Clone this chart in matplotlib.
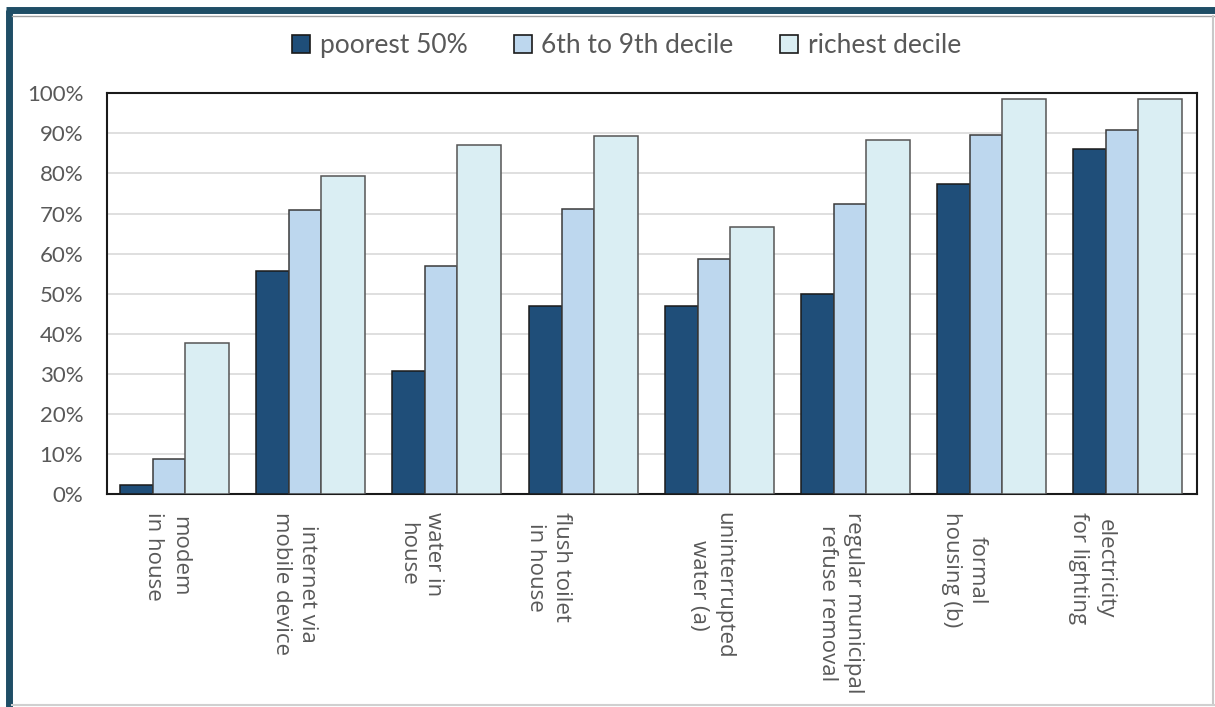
import numpy as np
import matplotlib
matplotlib.use("Agg")
import matplotlib.pyplot as plt
import matplotlib.transforms as mtransforms
from matplotlib.lines import Line2D
from matplotlib.ticker import PercentFormatter

# access to services by income group (share of households, %)
categories = ['modem\nin house', 'internet via\nmobile device', 'water in\nhouse',
              'flush toilet\nin house', 'uninterrupted\nwater (a)',
              'regular municipal\nrefuse removal', 'formal\nhousing (b)',
              'electricity\nfor lighting']
poorest_50 = [2.2, 55.7, 30.7, 46.9, 46.9, 49.9, 77.4, 86.1]
decile_6_9 = [8.7, 70.9, 56.9, 71.2, 58.7, 72.4, 89.6, 90.9]
richest_decile = [37.7, 79.4, 87.1, 89.4, 66.7, 88.4, 98.6, 98.6]
series_names = ['poorest 50%', '6th to 9th decile', 'richest decile']

colors = ['#1F4E79', '#BDD7EE', '#DAEEF3']
edges = ['#1a1a1a', '#3a3a3a', '#555555']
# left edge and width of each bar inside one category slot
bar_left = [0.095, 0.337, 0.572]
bar_width = [0.242, 0.235, 0.323]
# where each category label sits relative to the slot centre
label_shift = [-0.06, -0.125, -0.2, -0.257, -0.066, -0.117, -0.205, -0.27]

text_grey = '#595959'

fig = plt.figure(figsize=(12.15, 7.07), dpi=100)
ax = fig.add_axes([0.088, 0.301, 0.897, 0.567])

x = np.arange(len(categories))
for vals, left, w, c, ec in zip([poorest_50, decile_6_9, richest_decile],
                                bar_left, bar_width, colors, edges):
    ax.bar(x + left, vals, width=w, align='edge', color=c,
           edgecolor=ec, linewidth=1.1, zorder=3)

ax.set_xlim(0, len(categories))
ax.set_ylim(0, 100)
ax.set_yticks(np.arange(0, 101, 10))
ax.yaxis.set_major_formatter(PercentFormatter(decimals=0))
ax.grid(axis='y', color='#d9d9d9', linewidth=1.2, zorder=0)
ax.set_axisbelow(True)

# category names, read top to bottom under each group
ax.set_xticks([])
trans = mtransforms.blended_transform_factory(ax.transData, ax.transAxes)
for xi, name, sh in zip(x, categories, label_shift):
    ax.text(xi + 0.5 + sh, -0.045, name, transform=trans, rotation=270,
            ha='center', va='top', multialignment='center', linespacing=1.3,
            family=['Open Sans', 'DejaVu Sans'], fontsize=16, color=text_grey)

ax.tick_params(axis='y', length=0, pad=17, labelsize=16, labelcolor=text_grey)
for lab in ax.get_yticklabels():
    lab.set_family('Lato')

for s in ax.spines.values():
    s.set_color('#1a1a1a')
    s.set_linewidth(1.5)

handles = [Line2D([], [], marker='s', linestyle='none', markersize=13,
                  markerfacecolor=c, markeredgecolor='#1a1a1a', markeredgewidth=1.2)
           for c in colors]
leg = fig.legend(handles, series_names, loc='center', bbox_to_anchor=(0.515, 0.935),
                 ncol=3, frameon=False, handlelength=0.8, handletextpad=0.3,
                 columnspacing=1.7, prop={'family': 'Lato', 'size': 19})
for t in leg.get_texts():
    t.set_color(text_grey)

# outer frame of the figure panel
fig.add_artist(Line2D([0.007, 0.007], [0.0, 0.986], color='#1F4E66', linewidth=5,
                      transform=fig.transFigure, solid_capstyle='butt'))
fig.add_artist(Line2D([0.005, 1.0], [0.986, 0.986], color='#1F4E66', linewidth=5,
                      transform=fig.transFigure, solid_capstyle='butt'))
fig.add_artist(Line2D([0.0097, 1.0], [0.977, 0.977], color='#a0a0a0', linewidth=1,
                      transform=fig.transFigure))
fig.add_artist(Line2D([0.998, 0.998], [0.003, 0.977], color='#c8c8c8', linewidth=1.5,
                      transform=fig.transFigure))
fig.add_artist(Line2D([0.0097, 1.0], [0.003, 0.003], color='#d0d0d0', linewidth=1.5,
                      transform=fig.transFigure))

fig.savefig('out.png', dpi=100)
